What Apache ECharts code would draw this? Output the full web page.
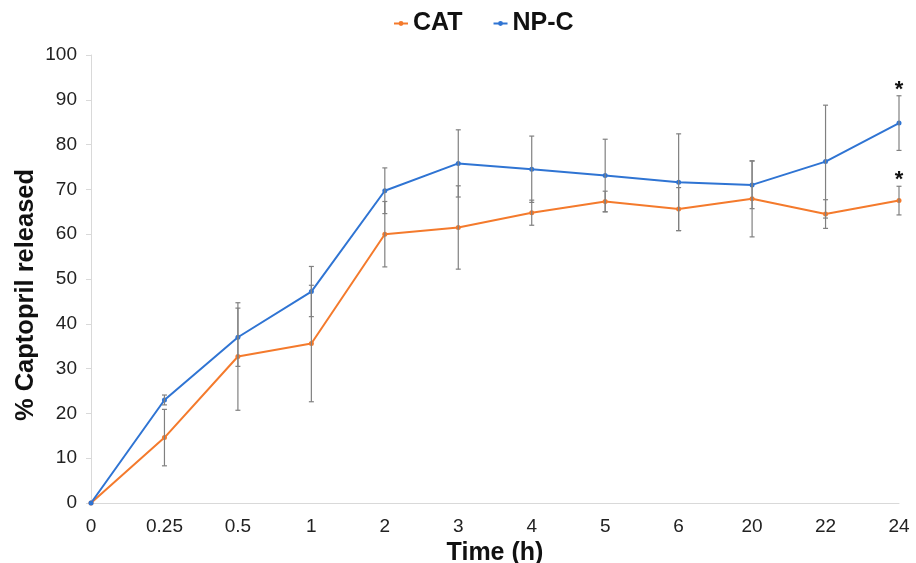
<!DOCTYPE html>
<html>
<head>
<meta charset="utf-8">
<script src="https://cdn.jsdelivr.net/npm/echarts@6/dist/echarts.min.js"></script>
<style>html,body{margin:0;padding:0;background:#fff}#c{width:916px;height:563px}</style>
</head>
<body>
<div id="c"></div>
<script>
var categories = ['0','0.25','0.5','1','2','3','4','5','6','20','22','24'];
var catValues = [0, 14.6, 32.7, 35.6, 60.0, 61.5, 64.8, 67.3, 65.6, 67.9, 64.5, 67.5];
var catErr    = [0, 6.3, 12.0, 13.0, 7.3, 9.3, 2.8, 2.3, 4.8, 8.5, 3.2, 3.2];
var npcValues = [0, 23.0, 37.0, 47.2, 69.7, 75.8, 74.5, 73.1, 71.6, 71.0, 76.2, 84.8];
var npcErr    = [0, 1.1, 6.5, 5.6, 5.1, 7.5, 7.4, 8.1, 10.8, 5.3, 12.6, 6.1];
var catSig = [0,0,0,0,0,0,0,0,0,0,0,1];
var npcSig = [0,0,0,0,0,0,0,0,0,0,0,1];
var yTicks = [0,10,20,30,40,50,60,70,80,90,100];

var CAT_COLOR = '#F47A2C';
var NPC_COLOR = '#2F74D3';
var FONT = 'Liberation Sans, Arial, sans-serif';

function errData(vals, errs, sig){
  return vals.map(function(v,i){ return [i, v, errs[i], sig[i]]; });
}
function errRender(params, api){
  var i = api.value(0), v = api.value(1), e = api.value(2), s = api.value(3);
  if (!e) return null;
  var top = api.coord([i, v + e]);
  var bot = api.coord([i, v - e]);
  var cap = 2.5;
  var st = {stroke: '#808080', lineWidth: 1.2};
  var children = [
    {type:'line', shape:{x1:top[0], y1:top[1], x2:bot[0], y2:bot[1]}, style:st},
    {type:'line', shape:{x1:top[0]-cap, y1:top[1], x2:top[0]+cap, y2:top[1]}, style:st},
    {type:'line', shape:{x1:bot[0]-cap, y1:bot[1], x2:bot[0]+cap, y2:bot[1]}, style:st}
  ];
  if (s) {
    children.push({type:'text', x: top[0], y: top[1] + 5, style:{text:'*', fill:'#111', font:'bold 22px ' + FONT, align:'center', verticalAlign:'bottom'}});
  }
  return {type:'group', children: children};
}

var chart = echarts.init(document.getElementById('c'), null, {renderer:'canvas'});
chart.setOption({
  animation: false,
  backgroundColor: '#fff',
  textStyle: {fontFamily: FONT},
  legend: {
    top: 6, left: 388,
    itemGap: 30, itemWidth: 14, itemHeight: 6,
    data: ['CAT','NP-C'],
    textStyle: {fontSize: 25, fontWeight: 'bold', color: '#111'}
  },
  grid: {left: 91, right: 17, top: 55, bottom: 60, containLabel: false, outerBoundsMode: 'none'},
  xAxis: {
    type: 'category', data: categories, boundaryGap: false,
    name: 'Time (h)', nameLocation: 'middle', nameGap: 38, nameMoveOverlap: false,
    nameTextStyle: {fontSize: 25, fontWeight: 'bold', color: '#111'},
    axisLine: {lineStyle: {color: '#d9d9d9', width: 1}},
    axisTick: {show: false},
    axisLabel: {fontSize: 19, color: '#222', margin: 14}
  },
  yAxis: {
    type: 'value', min: 0, max: 100, interval: 10,
    name: '% Captopril released', nameLocation: 'middle', nameGap: 52, nameMoveOverlap: false,
    nameTextStyle: {fontSize: 25.5, fontWeight: 'bold', color: '#111', padding: [0, 32, 0, 0]},
    axisLine: {show: true, lineStyle: {color: '#d9d9d9', width: 1}},
    axisTick: {show: true, length: 5, lineStyle: {color: '#d9d9d9'}},
    splitLine: {show: false},
    axisLabel: {fontSize: 19, color: '#222', margin: 14,
      formatter: function(v){ return yTicks.indexOf(v) >= 0 ? String(v) : ''; }}
  },
  series: [
    {name:'CAT', type:'line', data: catValues, color: CAT_COLOR,
     symbol:'circle', symbolSize: 5, lineStyle:{width: 2}, z: 3},
    {name:'NP-C', type:'line', data: npcValues, color: NPC_COLOR,
     symbol:'circle', symbolSize: 5, lineStyle:{width: 2}, z: 3},
    {name:'CAT err', type:'custom', renderItem: errRender, data: errData(catValues, catErr, catSig), z: 4, silent: true},
    {name:'NP-C err', type:'custom', renderItem: errRender, data: errData(npcValues, npcErr, npcSig), z: 4, silent: true}
  ]
});
</script>
</body>
</html>
